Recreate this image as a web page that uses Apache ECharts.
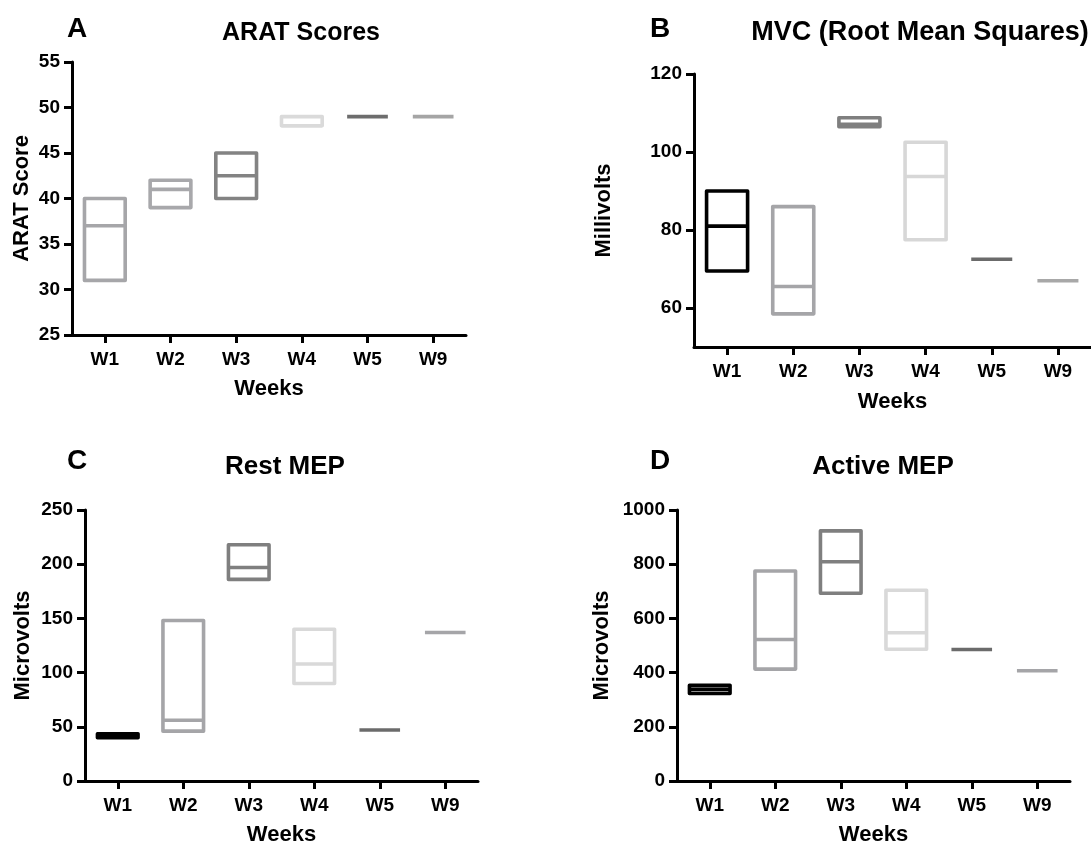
<!DOCTYPE html>
<html>
<head>
<meta charset="utf-8">
<script src="https://cdn.jsdelivr.net/npm/echarts@6.0.0/dist/echarts.min.js"></script>
<style>
  html, body { margin: 0; padding: 0; background: #ffffff; }
  #chart { width: 1091px; height: 847px; }
</style>
</head>
<body>
<div id="chart"></div>
<script>
// ---- data ----
const categories = ['W1', 'W2', 'W3', 'W4', 'W5', 'W9'];

const aratMin    = [31, 39, 40, 48, 49, 49];
const aratMedian = [37, 41, 42.5, 48, 49, 49];
const aratMax    = [40, 42, 45, 49, 49, 49];

const mvcMin    = [69.5, 58.5, 106.5, 77.5, 72.5, 67];
const mvcMedian = [81, 65.5, 107.1, 93.7, 72.5, 67];
const mvcMax    = [90, 86, 108.8, 102.5, 72.5, 67];

const restMin    = [40, 46, 186, 90, 47, 137];
const restMedian = [42, 56, 197, 108, 47, 137];
const restMax    = [43.6, 148, 218, 140, 47, 137];

const activeMin    = [323, 413, 693, 486, 485, 407];
const activeMedian = [338, 522, 809, 547, 485, 407];
const activeMax    = [353, 775, 923, 704, 485, 407];

const aratTicks   = [25, 30, 35, 40, 45, 50, 55];
const mvcTicks    = [60, 80, 100, 120];
const restTicks   = [0, 50, 100, 150, 200, 250];
const activeTicks = [0, 200, 400, 600, 800, 1000];

// ---- styles ----
const colorsA = ['#a6a6a9', '#a8a8ab', '#838383', '#dadada', '#6d6d6d', '#a5a5a5'];
const colorsB = ['#000000', '#a5a5a8', '#7f7f7f', '#d7d7d7', '#6b6b6b', '#a8a8a8'];
const colorsC = ['#000000', '#a5a5a8', '#7f7f7f', '#d9d9d9', '#6b6b6b', '#a5a5a8'];
const colorsD = ['#000000', '#a5a5a8', '#7f7f7f', '#d9d9d9', '#6b6b6b', '#a5a5a8'];

const FONT = "'Liberation Sans', Arial, Helvetica, sans-serif";
const LW = 3.6;
const AXW = 3;

function buildData(mins, meds, maxs, colors) {
  return categories.map((c, i) => ({
    value: [i, mins[i], meds[i], maxs[i]],
    itemStyle: { color: colors[i] }
  }));
}

function renderItem(params, api) {
  const idx = api.value(0);
  const lo = api.coord([idx, api.value(1)]);
  const med = api.coord([idx, api.value(2)]);
  const hi = api.coord([idx, api.value(3)]);
  const w = api.size([1, 0])[0] * 0.62;
  const cx = lo[0];
  const color = api.visual('color');
  const children = [];
  const h = lo[1] - hi[1];
  if (h > 0.5) {
    children.push({
      type: 'rect',
      shape: { x: cx - w / 2, y: hi[1], width: w, height: h },
      style: { fill: 'none', stroke: color, lineWidth: LW, lineJoin: 'round' }
    });
  }
  children.push({
    type: 'line',
    shape: { x1: cx - w / 2, y1: med[1], x2: cx + w / 2, y2: med[1] },
    style: { stroke: color, lineWidth: LW, lineCap: 'butt' }
  });
  return { type: 'group', children: children };
}

function xAxisOf(gridIndex, nameGap) {
  return {
    type: 'category',
    gridIndex: gridIndex,
    data: categories,
    boundaryGap: true,
    name: 'Weeks',
    nameLocation: 'middle',
    nameGap: nameGap,
    nameTextStyle: { fontFamily: FONT, fontWeight: 'bold', fontSize: 22, color: '#000' },
    axisLine: { show: true, lineStyle: { color: '#000', width: AXW } },
    axisTick: { show: true, alignWithLabel: true, length: 8, lineStyle: { color: '#000', width: AXW } },
    axisLabel: { margin: 15, fontFamily: FONT, fontWeight: 'bold', fontSize: 19, color: '#000' },
    splitLine: { show: false }
  };
}

function yAxisOf(gridIndex, name, nameGap, min, max, ticks) {
  return {
    type: 'value',
    gridIndex: gridIndex,
    min: min,
    max: max,
    name: name,
    nameLocation: 'middle',
    nameGap: nameGap,
    nameRotate: 90,
    nameTextStyle: { fontFamily: FONT, fontWeight: 'bold', fontSize: 22, color: '#000' },
    axisLine: { show: true, lineStyle: { color: '#000', width: AXW } },
    axisTick: { show: true, length: 8, customValues: ticks, lineStyle: { color: '#000', width: AXW } },
    axisLabel: {
      margin: 12, customValues: ticks,
      formatter: function (v) { return String(v); },
      fontFamily: FONT, fontWeight: 'bold', fontSize: 19, color: '#000'
    },
    splitLine: { show: false }
  };
}

function seriesOf(index, mins, meds, maxs, colors) {
  return {
    type: 'custom',
    xAxisIndex: index,
    yAxisIndex: index,
    renderItem: renderItem,
    encode: { x: 0, y: [1, 2, 3] },
    data: buildData(mins, meds, maxs, colors),
    clip: false,
    silent: true
  };
}

function label(text, x, y, size) {
  return {
    type: 'text',
    x: x,
    y: y,
    style: {
      text: text,
      fill: '#000',
      font: 'bold ' + size + 'px ' + FONT,
      textAlign: 'center',
      textVerticalAlign: 'middle'
    }
  };
}

const chart = echarts.init(document.getElementById('chart'), null, { renderer: 'canvas' });

chart.setOption({
  backgroundColor: '#ffffff',
  animation: false,
  grid: [
    { left: 72, top: 62, width: 394, height: 273 },
    { left: 694, top: 74, width: 410, height: 273 },
    { left: 85, top: 510, width: 393, height: 275 },
    { left: 677, top: 510, width: 393, height: 275 }
  ],
  xAxis: [
    xAxisOf(0, 43),
    xAxisOf(1, 44),
    xAxisOf(2, 43),
    xAxisOf(3, 43)
  ],
  yAxis: [
    yAxisOf(0, 'ARAT Score', 39, 25, 55, aratTicks),
    yAxisOf(1, 'Millivolts', 79.5, 50, 120, mvcTicks),
    yAxisOf(2, 'Microvolts', 51.5, 0, 250, restTicks),
    yAxisOf(3, 'Microvolts', 64, 0, 1000, activeTicks)
  ],
  series: [
    seriesOf(0, aratMin, aratMedian, aratMax, colorsA),
    seriesOf(1, mvcMin, mvcMedian, mvcMax, colorsB),
    seriesOf(2, restMin, restMedian, restMax, colorsC),
    seriesOf(3, activeMin, activeMedian, activeMax, colorsD)
  ],
  graphic: [
    label('A', 77, 29, 28),
    label('ARAT Scores', 301, 33, 25),
    label('B', 660, 29, 28),
    label('MVC (Root Mean Squares)', 920, 33, 27),
    label('C', 77, 461, 28),
    label('Rest MEP', 285, 467, 26),
    label('D', 660, 461, 28),
    label('Active MEP', 883, 467, 26)
  ]
});
</script>
</body>
</html>
